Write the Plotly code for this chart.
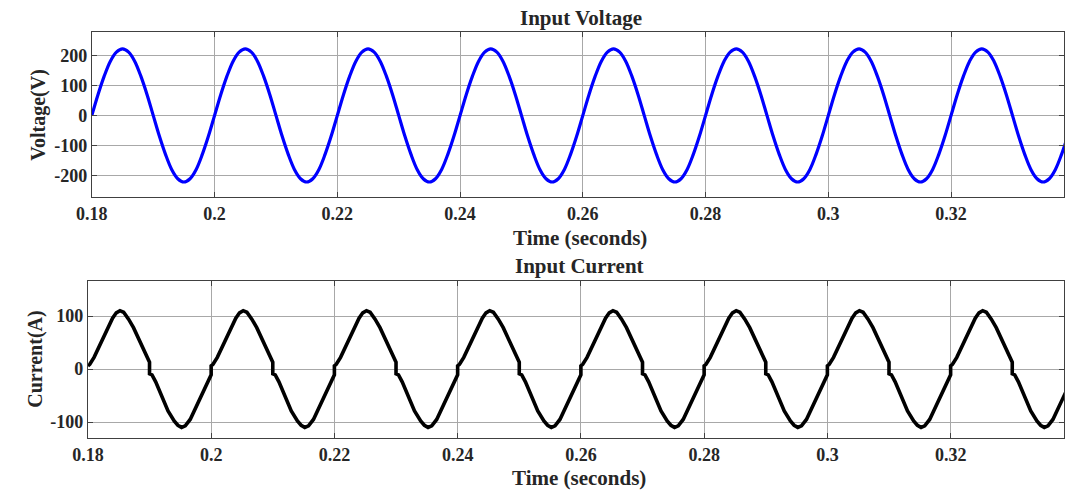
import plotly.graph_objects as go

# ---- data ----
cycle_starts = [0.18, 0.20, 0.22, 0.24, 0.26, 0.28, 0.30, 0.32, 0.34]   # s, 50 Hz cycles

v_phase_ms = [0, 1, 2, 3, 4, 5, 6, 7, 8, 9, 10, 11, 12, 13, 14, 15, 16, 17, 18, 19, 20]
v_cycle = [0, 69, 130, 180, 211, 222, 211, 180, 130, 69, 0,
           -69, -130, -180, -211, -222, -211, -180, -130, -69, 0]

i_phase_ms = [0.0, 0.3, 1.0, 2.0, 3.0, 4.0, 4.6, 5.2, 5.8, 6.6, 7.4, 7.9, 8.3, 8.8, 9.4, 10.0,
              10.0, 10.4, 11.0, 12.0, 13.0, 14.0, 14.6, 15.2, 15.8, 16.6, 17.4, 17.9, 18.3, 18.9, 19.5, 20.0]
i_cycle = [6, 9, 22, 47, 72, 96, 106, 110, 107, 94, 78, 66, 54, 43, 28, 13,
           -9, -11, -24, -50, -79, -98, -106, -110, -107, -95, -76, -62, -54, -40, -25, -11]

x_ticks = [0.18, 0.20, 0.22, 0.24, 0.26, 0.28, 0.30, 0.32]
x_tick_text = ["0.18", "0.2", "0.22", "0.24", "0.26", "0.28", "0.3", "0.32"]
v_ticks = [-200, -100, 0, 100, 200]
v_tick_text = ["-200", "-100", "0", "100", "200"]
i_ticks = [-100, 0, 100]
i_tick_text = ["-100", "0", "100"]

# ---- build series by repeating the read cycle ----
tv, vv = [], []
for s in cycle_starts:
    for p, v in zip(v_phase_ms[:-1], v_cycle[:-1]):
        tv.append(s + p / 1000.0)
        vv.append(v)
ti, ii = [], []
for s in cycle_starts:
    for p, v in zip(i_phase_ms, i_cycle):
        ti.append(s + p / 1000.0)
        ii.append(v)

W, H = 1065, 490
FONT = "Liberation Serif"
TXT = "#262626"

fig = go.Figure()
fig.add_trace(go.Scatter(x=tv, y=vv, mode="lines", line=dict(color="#0000ff", width=3.2, shape="spline"),
                         xaxis="x", yaxis="y", showlegend=False))
fig.add_trace(go.Scatter(x=ti, y=ii, mode="lines", line=dict(color="#000000", width=3.6),
                         xaxis="x2", yaxis="y2", showlegend=False))

axis_common = dict(showgrid=True, gridcolor="#a8a8a8", gridwidth=1, zeroline=False,
                   showline=True, linecolor="#404040", linewidth=1, mirror="ticks",
                   ticks="inside", ticklen=5, tickcolor="#404040",
                   tickfont=dict(family=FONT, size=18, color=TXT, weight="bold"))

def px_x(p):
    return p / W

def px_y(p):
    return 1 - p / H

fig.update_layout(
    width=W, height=H, margin=dict(l=0, r=0, t=0, b=0),
    paper_bgcolor="white", plot_bgcolor="white",
    xaxis=dict(domain=[px_x(77), px_x(1064)], range=[0.18, 0.3384], anchor="y",
               tickvals=x_ticks, ticktext=x_tick_text, **axis_common),
    yaxis=dict(domain=[px_y(197), px_y(32)], range=[-272, 278], anchor="x",
               tickvals=v_ticks, ticktext=v_tick_text, **axis_common),
    xaxis2=dict(domain=[px_x(73), px_x(1064)], range=[0.18, 0.3384], anchor="y2",
                tickvals=x_ticks, ticktext=x_tick_text, **axis_common),
    yaxis2=dict(domain=[px_y(438), px_y(281)], range=[-130, 166], anchor="x2",
                tickvals=i_ticks, ticktext=i_tick_text, **axis_common),
)

def ann(text, x, y, angle=0, size=21):
    fig.add_annotation(text="<b>%s</b>" % text, x=px_x(x), y=px_y(y), xref="paper", yref="paper",
                       showarrow=False, textangle=angle, xanchor="center", yanchor="middle",
                       font=dict(family=FONT, size=size, color=TXT))

ann("Input Voltage", 574, 18)
ann("Time (seconds)", 573, 238)
ann("Input Current", 572, 266)
ann("Time (seconds)", 572, 478)
ann("Voltage(V)", 22, 115, angle=-90, size=20)
ann("Current(A)", 19, 359, angle=-90, size=20)

fig.write_html("out.html")
